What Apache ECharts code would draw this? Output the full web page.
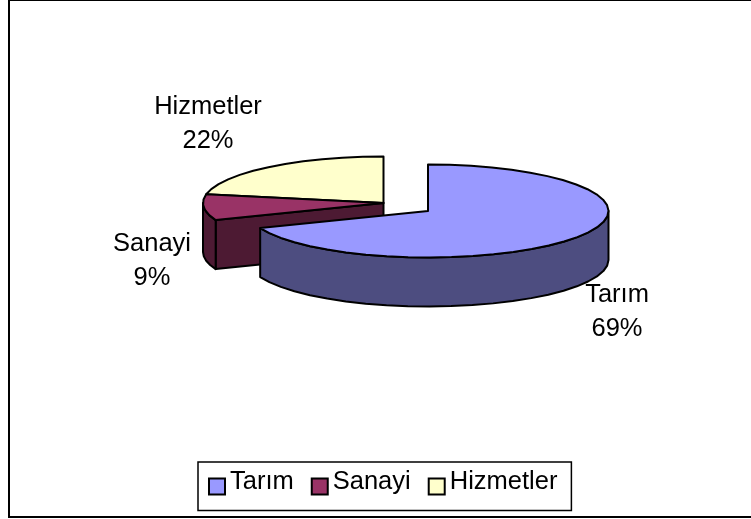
<!DOCTYPE html>
<html>
<head>
<meta charset="utf-8">
<style>html,body{margin:0;padding:0;background:#fff}#c{width:751px;height:519px}</style>
<script src="https://cdn.jsdelivr.net/npm/echarts@6/dist/echarts.min.js"></script>
</head>
<body>
<div id="c"></div>
<script>
var categories = ['Tarım', 'Sanayi', 'Hizmetler'];
var values = [69, 9, 22];
var topColors = ['#9999FF', '#993366', '#FFFFCC'];
var wallColors = ['#4D4D80', '#4D1A33', '#80806A'];

// Layout of the pseudo-3D pie (pixels)
var RX = 180.5, RY = 46.5, DEPTH = 49;
var centers = [[428, 211], [383.5, 203], [383.5, 203]];
var labelAt = [[617, 312], [152, 261], [208, 124]];
var FONT = 'Liberation Sans, Arial, sans-serif';
var FS = 25.5;

var total = values.reduce(function (a, b) { return a + b; }, 0);

function pt(c, deg, dy) {
  var r = deg * Math.PI / 180;
  return [c[0] + RX * Math.sin(r), c[1] - RY * Math.cos(r) + (dy || 0)];
}
function arc(c, a, b, dy) {
  var n = Math.max(2, Math.ceil(Math.abs(b - a) / 7)), out = [];
  for (var i = 0; i <= n; i++) out.push(pt(c, a + (b - a) * i / n, dy));
  return out;
}
function poly(points, fill) {
  return {
    type: 'polygon',
    shape: { points: points },
    style: { fill: fill, stroke: '#000', lineWidth: 2, lineJoin: 'round' }
  };
}

function renderSlice(index) {
  return function () {
    var start = 0;
    for (var i = 0; i < index; i++) start += values[i];
    var a = start / total * 360;
    var b = (start + values[index]) / total * 360;
    var c = centers[index];
    var kids = [];

    // Cut face at the start of the slice, seen when it opens on the left side
    if (a > 180 && a < 270) {
      var p = pt(c, a), pd = pt(c, a, DEPTH);
      kids.push(poly([[c[0], c[1]], p, pd, [c[0], c[1] + DEPTH]], wallColors[index]));
    }
    // Outer wall on the front half of the ellipse
    var wa = Math.max(a, 90), wb = Math.min(b, 270);
    if (wb > wa) {
      kids.push(poly(arc(c, wa, wb, 0).concat(arc(c, wb, wa, DEPTH)), wallColors[index]));
    }
    // Top face
    kids.push(poly([[c[0], c[1]]].concat(arc(c, a, b, 0)), topColors[index]));

    // Data label
    kids.push({
      type: 'text',
      z2: 10,
      style: {
        x: labelAt[index][0],
        y: labelAt[index][1],
        text: categories[index] + '\n' + Math.round(values[index] / total * 100) + '%',
        font: FS + 'px ' + FONT,
        lineHeight: 34,
        fill: '#000',
        align: 'center',
        verticalAlign: 'middle'
      }
    });
    return { type: 'group', children: kids };
  };
}

var drawOrder = [2, 1, 0];
var series = categories.map(function (name, i) {
  return {
    type: 'custom',
    name: name,
    coordinateSystem: 'none',
    silent: true,
    animation: false,
    clip: false,
    z: 2 + drawOrder.indexOf(i),
    itemStyle: { color: topColors[i], borderColor: '#000', borderWidth: 1.5 },
    renderItem: renderSlice(i),
    data: [values[i]]
  };
});

var chart = echarts.init(document.getElementById('c'), null, { renderer: 'canvas' });
chart.setOption({
  animation: false,
  backgroundColor: '#fff',
  graphic: [{
    type: 'rect',
    silent: true,
    z: 0,
    shape: { x: 9, y: 0, width: 745, height: 517 },
    style: { fill: '#fff', stroke: '#000', lineWidth: 2 }
  }],
  legend: {
    data: categories,
    left: 198,
    top: 462,
    orient: 'horizontal',
    icon: 'rect',
    itemWidth: 16,
    itemHeight: 16,
    itemGap: 17,
    padding: [7, 14, 15, 10],
    borderColor: '#000',
    borderWidth: 1.5,
    backgroundColor: '#fff',
    selectedMode: false,
    formatter: '{t|{name}}',
    textStyle: {
      color: '#000',
      fontFamily: FONT,
      fontSize: FS,
      rich: { t: { fontFamily: FONT, fontSize: FS, color: '#000', padding: [0, 0, 9, 0] } }
    }
  },
  series: series
});
</script>
</body>
</html>
